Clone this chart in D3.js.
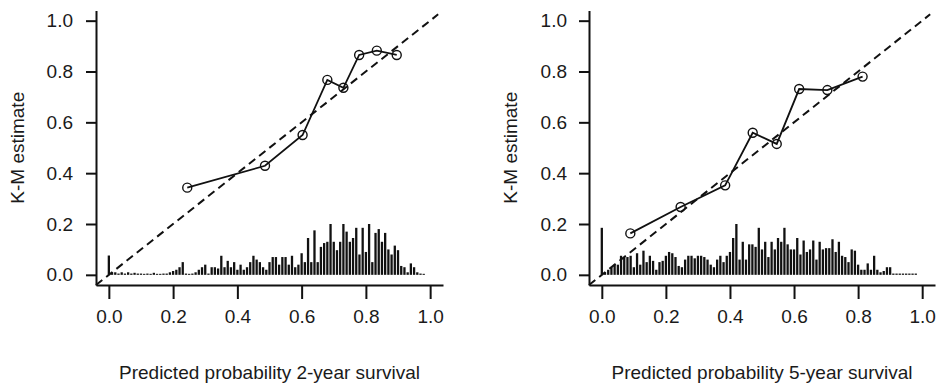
<!DOCTYPE html>
<html>
<head>
<meta charset="utf-8">
<script src="https://cdn.jsdelivr.net/npm/d3@7.9.0/dist/d3.min.js"></script>
<style>
  body { margin: 0; background: #fff; }
  text { font-family: "Liberation Sans", Arial, sans-serif; fill: #1a1a1a; }
</style>
</head>
<body>
<div id="chart"></div>
<script>
// tick values shared by both panels
const xTicks = [0, 0.2, 0.4, 0.6, 0.8, 1.0];
const yTicks = [0, 0.2, 0.4, 0.6, 0.8, 1.0];

// calibration points (predicted vs K-M estimate)
const pred2yr = [0.244, 0.486, 0.603, 0.680, 0.730, 0.779, 0.834, 0.896];
const km2yr   = [0.343, 0.429, 0.550, 0.767, 0.736, 0.865, 0.882, 0.865];

const pred5yr = [0.089, 0.246, 0.385, 0.471, 0.546, 0.616, 0.704, 0.814];
const km5yr   = [0.163, 0.267, 0.352, 0.559, 0.515, 0.731, 0.727, 0.780];

// spike histogram heights, one per 0.01 bin starting at 0.00
const spikes2yr = [
  0.076, 0.010, 0.010, 0.005, 0.010, 0.005, 0.010, 0.005, 0.008, 0.005,
  0.005, 0.003, 0.005, 0.003, 0.008, 0.003, 0.003, 0.005, 0.005, 0.010,
  0.015, 0.020, 0.030, 0.050, 0.005, 0.003, 0.005, 0.010, 0.020, 0.030,
  0.040, 0.005, 0.030, 0.030, 0.025, 0.075, 0.030, 0.055, 0.030, 0.050,
  0.020, 0.040, 0.020, 0.030, 0.050, 0.075, 0.060, 0.050, 0.030, 0.020,
  0.050, 0.070, 0.070, 0.040, 0.070, 0.070, 0.040, 0.075, 0.030, 0.040,
  0.085, 0.050, 0.145, 0.050, 0.175, 0.050, 0.110, 0.125, 0.130, 0.200,
  0.130, 0.097, 0.130, 0.200, 0.170, 0.130, 0.145, 0.185, 0.080, 0.185,
  0.090, 0.200, 0.050, 0.165, 0.180, 0.130, 0.165, 0.100, 0.080, 0.115,
  0.097, 0.035, 0.030, 0.010, 0.045, 0.030, 0.010, 0.005, 0.004, 0.000
];

const spikes5yr = [
  0.185, 0.010, 0.020, 0.030, 0.040, 0.040, 0.075, 0.070, 0.070, 0.075,
  0.030, 0.085, 0.040, 0.095, 0.050, 0.075, 0.055, 0.020, 0.050, 0.055,
  0.075, 0.090, 0.085, 0.070, 0.035, 0.030, 0.060, 0.075, 0.075, 0.065,
  0.075, 0.075, 0.070, 0.060, 0.040, 0.030, 0.060, 0.075, 0.050, 0.075,
  0.090, 0.145, 0.200, 0.060, 0.130, 0.060, 0.120, 0.120, 0.110, 0.185,
  0.100, 0.130, 0.070, 0.130, 0.100, 0.145, 0.130, 0.185, 0.120, 0.100,
  0.100, 0.145, 0.080, 0.135, 0.090, 0.100, 0.135, 0.060, 0.130, 0.100,
  0.105, 0.105, 0.140, 0.090, 0.130, 0.075, 0.070, 0.050, 0.100, 0.095,
  0.040, 0.020, 0.020, 0.045, 0.020, 0.075, 0.020, 0.010, 0.015, 0.030,
  0.030, 0.005, 0.005, 0.005, 0.005, 0.005, 0.005, 0.005, 0.005, 0.000
];

const width = 940;
const height = 384;

const svg = d3.select('#chart')
  .append('svg')
  .attr('width', width)
  .attr('height', height);

function drawPanel(opts) {
  // R style axes: 4% padding on both ends
  const x = d3.scaleLinear().domain([-0.04, 1.04]).range([opts.left, opts.right]);
  const y = d3.scaleLinear().domain([-0.04, 1.04]).range([285, 10.5]);

  const g = svg.append('g');

  // spike histogram
  const bins = opts.spikes.map((h, i) => ({ x: i / 100, h }));
  g.append('g')
    .selectAll('line')
    .data(bins.filter(d => d.h > 0))
    .enter()
    .append('line')
    .attr('x1', d => x(d.x))
    .attr('x2', d => x(d.x))
    .attr('y1', y(0))
    .attr('y2', d => Math.min(y(0) - 1, y(d.h)))
    .attr('stroke', '#111')
    .attr('stroke-width', 2.3);

  // ideal line
  g.append('line')
    .attr('x1', x(-0.04))
    .attr('y1', y(-0.04))
    .attr('x2', x(1.025))
    .attr('y2', y(1.025))
    .attr('stroke', '#111')
    .attr('stroke-width', 2)
    .attr('stroke-dasharray', '8,5');

  const pts = opts.pred.map((p, i) => ({ p, k: opts.km[i] }));

  g.append('path')
    .datum(pts)
    .attr('fill', 'none')
    .attr('stroke', '#111')
    .attr('stroke-width', 1.8)
    .attr('d', d3.line().x(d => x(d.p)).y(d => y(d.k)));

  g.append('g')
    .selectAll('circle')
    .data(pts)
    .enter()
    .append('circle')
    .attr('cx', d => x(d.p))
    .attr('cy', d => y(d.k))
    .attr('r', 4.5)
    .attr('fill', 'none')
    .attr('stroke', '#111')
    .attr('stroke-width', 1.4);

  // x axis
  const xAxis = g.append('g')
    .attr('class', 'x-axis')
    .attr('transform', `translate(0, ${y(-0.04)})`)
    .call(d3.axisBottom(x).tickValues(xTicks).tickSize(14).tickSizeOuter(0)
      .tickFormat(d3.format('.1f')));

  // y axis
  const yAxis = g.append('g')
    .attr('class', 'y-axis')
    .attr('transform', `translate(${x(-0.04)}, 0)`)
    .call(d3.axisLeft(y).tickValues(yTicks).tickSize(10).tickSizeOuter(0)
      .tickFormat(d3.format('.1f')));

  [xAxis, yAxis].forEach(a => {
    a.select('.domain').attr('stroke', '#111').attr('stroke-width', 2);
    a.selectAll('.tick line').attr('stroke', '#111').attr('stroke-width', 2);
    a.selectAll('.tick text').attr('font-size', '19px').attr('fill', '#1a1a1a');
  });

  xAxis.selectAll('.tick text').attr('y', 25);
  yAxis.selectAll('.tick text').attr('x', -(x(-0.04) - opts.yLabelEnd));

  // axis titles
  svg.append('text')
    .attr('x', (opts.left + opts.right) / 2)
    .attr('y', 379)
    .attr('text-anchor', 'middle')
    .attr('font-size', '19px')
    .text(opts.xTitle);

  svg.append('text')
    .attr('transform', `translate(${opts.yTitleX}, ${(y(-0.04) + y(1.04)) / 2}) rotate(-90)`)
    .attr('text-anchor', 'middle')
    .attr('font-size', '19px')
    .text('K-M estimate');
}

drawPanel({
  left: 96, right: 443, yLabelEnd: 73, yTitleX: 24,
  pred: pred2yr, km: km2yr, spikes: spikes2yr,
  xTitle: 'Predicted probability 2-year survival'
});

drawPanel({
  left: 589, right: 935, yLabelEnd: 567, yTitleX: 517,
  pred: pred5yr, km: km5yr, spikes: spikes5yr,
  xTitle: 'Predicted probability 5-year survival'
});
</script>
</body>
</html>
